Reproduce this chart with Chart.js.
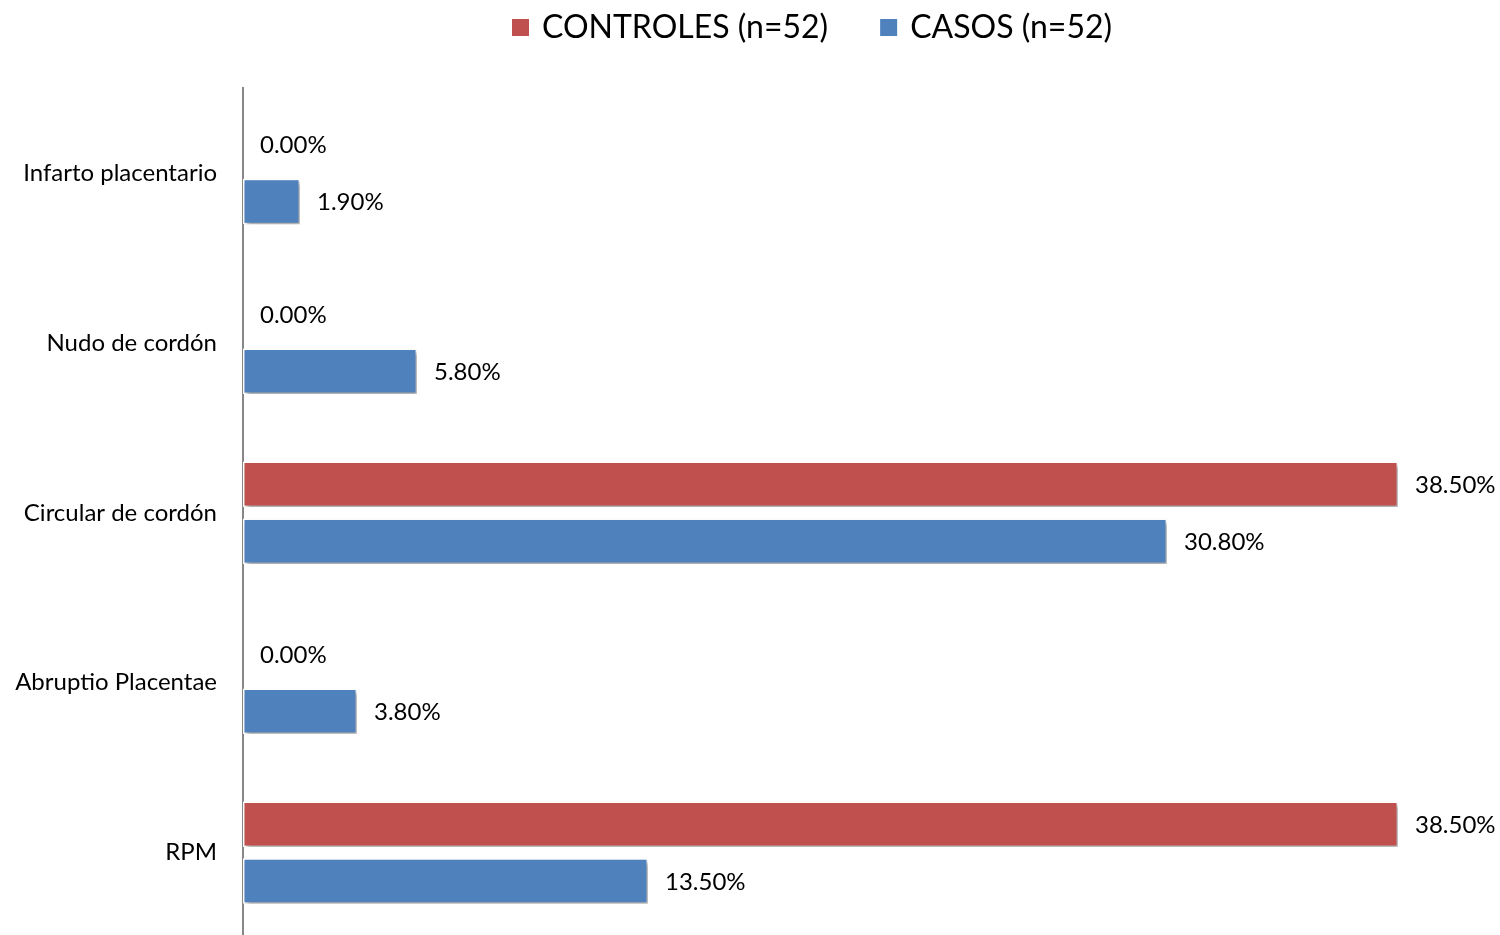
<!DOCTYPE html>
<html>
<head>
<meta charset="utf-8">
<script src="https://cdn.jsdelivr.net/npm/chart.js@4/dist/chart.umd.min.js"></script>
<style>
  html, body { margin: 0; padding: 0; background: #fff; overflow: hidden; }
  #wrap { width: 1500px; height: 978px; }
</style>
</head>
<body>
<div id="wrap"><canvas id="chart" width="1500" height="978"></canvas></div>
<script>
const categories = ['Infarto placentario', 'Nudo de cordón', 'Circular de cordón', 'Abruptio Placentae', 'RPM'];
const controles = [0.0, 0.0, 38.5, 0.0, 38.5];
const casos = [1.9, 5.8, 30.8, 3.8, 13.5];
const seriesNames = ['CONTROLES (n=52)', 'CASOS (n=52)'];

const FONT = 'Lato, "Open Sans", sans-serif';

// soft drop shadow under each bar
const barShadow = {
    id: 'barShadow',
    beforeDatasetDraw(chart) {
        const c = chart.ctx;
        c.save();
        c.shadowColor = 'rgba(0,0,0,0.35)';
        c.shadowBlur = 4;
        c.shadowOffsetX = 2;
        c.shadowOffsetY = 3;
    },
    afterDatasetDraw(chart) {
        chart.ctx.restore();
    }
};

// value labels to the right of each bar
const valueLabels = {
    id: 'valueLabels',
    afterDatasetsDraw(chart) {
        const c = chart.ctx;
        c.save();
        c.font = '24px ' + FONT;
        c.fillStyle = '#000';
        c.textAlign = 'left';
        c.textBaseline = 'middle';
        chart.data.datasets.forEach((ds, i) => {
            chart.getDatasetMeta(i).data.forEach((bar, j) => {
                c.fillText(ds.data[j].toFixed(2) + '%', bar.x + 17, bar.y + 1);
            });
        });
        c.restore();
    }
};

// legend row across the top
const topLegend = {
    id: 'topLegend',
    afterDraw(chart) {
        const c = chart.ctx;
        c.save();
        c.font = '32px ' + FONT;
        c.textBaseline = 'middle';
        c.textAlign = 'left';
        let x = 512;
        chart.data.datasets.forEach(ds => {
            c.fillStyle = ds.backgroundColor;
            c.fillRect(x, 19, 17, 17);
            c.fillStyle = '#000';
            c.fillText(ds.label, x + 30, 28);
            x += 30 + c.measureText(ds.label).width + 52;
        });
        c.restore();
    }
};

new Chart(document.getElementById('chart'), {
    type: 'bar',
    data: {
        labels: categories,
        datasets: [{
            label: seriesNames[0],
            data: controles,
            backgroundColor: '#C0504D',
            borderColor: '#ffffff',
            borderWidth: ctx => ctx.raw === 0 ? 0 : 1.5,
            borderSkipped: false
        }, {
            label: seriesNames[1],
            data: casos,
            backgroundColor: '#4F81BD',
            borderColor: '#ffffff',
            borderWidth: ctx => ctx.raw === 0 ? 0 : 1.5,
            borderSkipped: false
        }]
    },
    options: {
        indexAxis: 'y',
        responsive: false,
        animation: false,
        categoryPercentage: 0.67,
        barPercentage: 0.8,
        layout: { padding: { top: 88, right: 57, bottom: 0, left: 0 } },
        plugins: {
            legend: { display: false },
            tooltip: { enabled: false }
        },
        scales: {
            x: {
                display: false,
                min: 0,
                max: 40
            },
            y: {
                grid: { display: false, drawTicks: false },
                border: { display: true, color: '#878787', width: 2 },
                ticks: {
                    color: '#000',
                    padding: 26,
                    font: { family: FONT, size: 24 }
                },
                afterFit(scale) { scale.width = 243; }
            }
        }
    },
    plugins: [barShadow, valueLabels, topLegend]
});
</script>
</body>
</html>
